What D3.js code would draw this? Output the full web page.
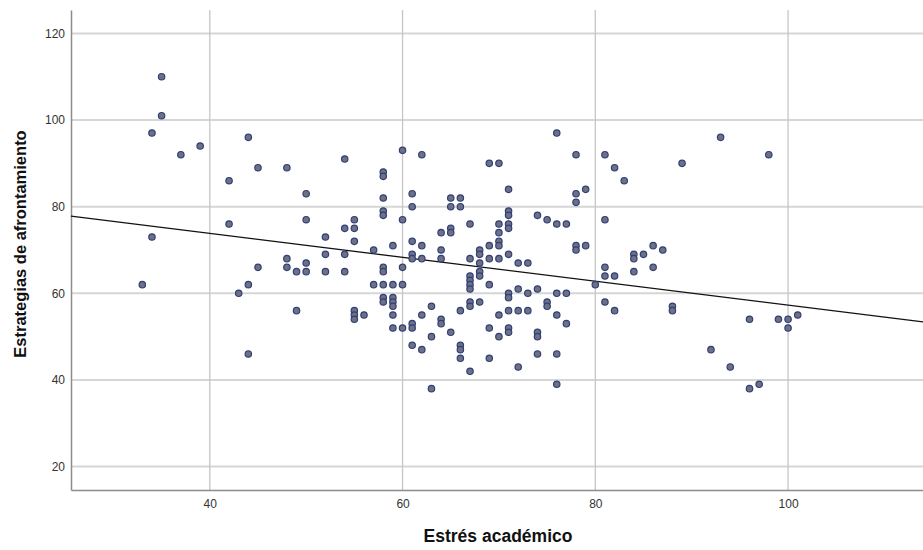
<!DOCTYPE html>
<html>
<head>
<meta charset="utf-8">
<script src="https://cdn.jsdelivr.net/npm/d3@7"></script>
<style>
  body { margin: 0; background: #fff; }
  svg { display: block; font-family: "Liberation Sans", Arial, sans-serif; }
</style>
</head>
<body>
<figure id="scatter" style="margin:0"></figure>
<script>
// Estrés académico (x) vs Estrategias de afrontamiento (y)
const estres = [
  35, 35, 34, 37, 39, 44, 45, 48, 42, 50, 50, 42, 34,
  33, 43, 44, 45, 44, 48, 48, 49, 50, 50, 49,
  76, 54, 60, 62, 58, 58, 69, 70, 78, 81, 82, 71, 78, 79, 78, 58, 61, 61, 65, 66, 65, 66,
  58, 58, 60, 55, 54, 55, 52, 55, 52, 54, 52, 54, 57, 59, 58, 58, 60, 57, 58, 59, 60,
  58, 59, 61, 62, 61, 61, 62, 64, 65, 65, 64, 64, 67, 68, 68, 68, 68, 68, 67, 67, 67, 67, 67,
  69, 69, 69, 70, 70, 70, 70, 70, 71, 71, 71, 71, 71, 72, 73, 74, 75, 76, 77, 78, 78, 79, 80,
  81, 81, 81, 82, 71, 71, 72, 73, 74, 76, 77,
  58, 59, 59, 59, 59, 60, 55, 55, 55, 56, 61, 61, 62, 63, 61, 62, 63, 63, 64, 64, 65, 66, 66,
  66, 66, 67, 67, 67, 68, 69, 69, 70, 70, 71, 71, 71, 72, 72, 73, 74, 74, 74, 75, 75, 76, 76,
  76, 77, 81, 82,
  83, 89, 93, 98, 86, 87, 84, 84, 85, 84, 86, 88, 88, 96, 99, 100, 100, 101, 92,
  94, 96, 97
];
const afrontamiento = [
  110, 101, 97, 92, 94, 96, 89, 89, 86, 83, 77, 76, 73,
  62, 60, 62, 66, 46, 68, 66, 65, 65, 67, 56,
  97, 91, 93, 92, 88, 87, 90, 90, 92, 92, 89, 84, 83, 84, 81, 82, 83, 80, 82, 82, 80, 80,
  79, 78, 77, 77, 75, 75, 73, 72, 69, 69, 65, 65, 70, 71, 66, 65, 66, 62, 62, 62, 62,
  59, 59, 72, 71, 69, 68, 68, 74, 75, 74, 70, 68, 76, 70, 69, 67, 65, 64, 68, 64, 63, 62, 61,
  71, 68, 62, 76, 74, 72, 71, 68, 79, 78, 76, 75, 69, 67, 67, 78, 77, 76, 76, 71, 70, 71, 62,
  77, 66, 64, 64, 60, 59, 61, 60, 61, 60, 60,
  58, 58, 57, 55, 52, 52, 56, 55, 54, 55, 53, 52, 55, 57, 48, 47, 50, 38, 54, 53, 51, 56, 48,
  47, 45, 58, 57, 42, 58, 52, 45, 55, 50, 56, 52, 51, 56, 43, 56, 51, 50, 46, 58, 57, 55, 46,
  39, 53, 58, 56,
  86, 90, 96, 92, 71, 70, 69, 68, 69, 65, 66, 57, 56, 54, 54, 54, 52, 55, 47,
  43, 38, 39
];
const xTicks = [40, 60, 80, 100];
const yTicks = [20, 40, 60, 80, 100, 120];
// linear fit line
const fitIntercept = 84.87;
const fitSlope = -0.276;

const width = 923, height = 550;
const margin = { left: 71, right: 923, top: 10, bottom: 490 };

const svg = d3.select("#scatter")
  .append("svg")
  .attr("width", width)
  .attr("height", height);

const x = d3.scaleLinear()
  .domain([25.6, 114])
  .range([margin.left, margin.right]);

const y = d3.scaleLinear()
  .domain([14.6, 125.4])
  .range([margin.bottom, margin.top]);

// gridlines
svg.append("g")
  .selectAll("line")
  .data(yTicks)
  .enter()
  .append("line")
  .attr("x1", margin.left).attr("x2", margin.right)
  .attr("y1", d => y(d)).attr("y2", d => y(d))
  .attr("stroke", "#d6d6d6")
  .attr("stroke-width", 2);

svg.append("g")
  .selectAll("line")
  .data(xTicks)
  .enter()
  .append("line")
  .attr("x1", d => x(d)).attr("x2", d => x(d))
  .attr("y1", margin.top).attr("y2", margin.bottom)
  .attr("stroke", "#c6c6c6")
  .attr("stroke-width", 1.3);

// axes
const yAxis = svg.append("g")
  .attr("transform", "translate(" + margin.left + ",0)")
  .call(d3.axisLeft(y).tickValues(yTicks).tickSize(0).tickPadding(6).tickFormat(d3.format("d")));

const xAxis = svg.append("g")
  .attr("transform", "translate(0," + margin.bottom + ")")
  .call(d3.axisBottom(x).tickValues(xTicks).tickSize(0).tickPadding(9).tickFormat(d3.format("d")));

[xAxis, yAxis].forEach(a => {
  a.select(".domain").attr("stroke", "#8c8c8c").attr("stroke-width", 1.5);
  a.selectAll("text")
    .attr("font-size", "12px")
    .attr("fill", "#333")
    .attr("font-family", "Liberation Sans, Arial, sans-serif");
});

// fit line
const xd = x.domain();
svg.append("line")
  .attr("x1", x(xd[0])).attr("y1", y(fitIntercept + fitSlope * xd[0]))
  .attr("x2", x(xd[1])).attr("y2", y(fitIntercept + fitSlope * xd[1]))
  .attr("stroke", "#111")
  .attr("stroke-width", 1.3);

// points
svg.append("g")
  .selectAll("circle")
  .data(estres.map((v, i) => [v, afrontamiento[i]]))
  .enter()
  .append("circle")
  .attr("cx", d => x(d[0]))
  .attr("cy", d => y(d[1]))
  .attr("r", 3.2)
  .attr("fill", "#6f7180")
  .attr("stroke", "#2f3f7c")
  .attr("stroke-width", 1.2);

// axis titles
svg.append("text")
  .attr("x", 498)
  .attr("y", 542)
  .attr("text-anchor", "middle")
  .attr("font-size", "17.5px")
  .attr("font-weight", "bold")
  .attr("fill", "#111")
  .text("Estrés académico");

svg.append("text")
  .attr("transform", "translate(26,244)rotate(-90)")
  .attr("text-anchor", "middle")
  .attr("font-size", "16.5px")
  .attr("font-weight", "bold")
  .attr("fill", "#111")
  .text("Estrategias de afrontamiento");
</script>
</body>
</html>
